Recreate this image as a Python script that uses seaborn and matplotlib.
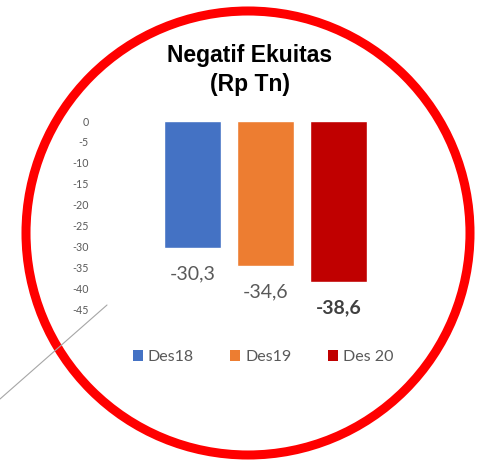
import matplotlib
matplotlib.use("Agg")
import matplotlib.pyplot as plt
import seaborn as sns
from matplotlib.patches import Ellipse, Patch
from matplotlib.lines import Line2D

# data
periods = ["Des18", "Des19", "Des 20"]
values = [-30.3, -34.6, -38.6]
labels = ["-30,3", "-34,6", "-38,6"]
colors = ["#4472C4", "#ED7D31", "#C00000"]
yticks = [0, -5, -10, -15, -20, -25, -30, -35, -40, -45]

sns.set_style("white")
plt.rcParams["font.family"] = ["Lato", "DejaVu Sans"]

W, H = 487, 462
fig = plt.figure(figsize=(W / 100, H / 100), dpi=100)

# axes placed so bars sit where they are in the reference
ax = fig.add_axes([90.3 / W, (H - 309) / H, 292 / W, 188 / H])
sns.barplot(x=periods, y=values, hue=periods, palette=colors, width=0.78,
            legend=False, ax=ax, saturation=1)
ax.set_xlim(-1.4, 2.6)
ax.set_ylim(-45, 0)
ax.set_yticks(yticks)
ax.set_yticklabels([str(t) for t in yticks])
ax.set_xticks([])
ax.tick_params(axis="y", length=0, pad=1, labelsize=7.7, labelcolor="#595959")
ax.set_xlabel("")
ax.set_ylabel("")
sns.despine(ax=ax, left=True, bottom=True)
ax.patch.set_alpha(0)

# value labels under each bar
for i, (v, t) in enumerate(zip(values, labels)):
    bold = i == len(values) - 1
    ax.annotate(t, (i, v), xytext=(0, -18.7), textcoords="offset points",
                ha="center", va="center", fontsize=14,
                fontweight="bold" if bold else "normal",
                color="#404040" if bold else "#595959")

# title
fig.text(250 / W, 1 - 70 / H, "Negatif Ekuitas\n(Rp Tn)", ha="center", va="center",
         fontsize=16.5, fontweight="bold", family=["Liberation Sans", "DejaVu Sans"],
         linespacing=1.3, color="black")

# legend
handles = [Patch(facecolor=c, edgecolor="none") for c in colors]
fig.legend(handles, periods, loc="center", bbox_to_anchor=(263 / W, 1 - 357 / H),
           ncol=3, frameon=False, fontsize=11.5, labelcolor="#595959",
           handlelength=0.63, handleheight=0.63, handletextpad=0.3,
           columnspacing=2.3)

# decorative circle and diagonal line
fig.add_artist(Ellipse((248 / W, 1 - 233 / H), 444 / W, 444 / H,
                       transform=fig.transFigure, fill=False, ec="#FF0000", lw=6.5))
fig.add_artist(Line2D([0, 107 / W], [1 - 399 / H, 1 - 305 / H],
                      transform=fig.transFigure, color="#A6A6A6", lw=0.8))

fig.savefig("out.png", dpi=100)
